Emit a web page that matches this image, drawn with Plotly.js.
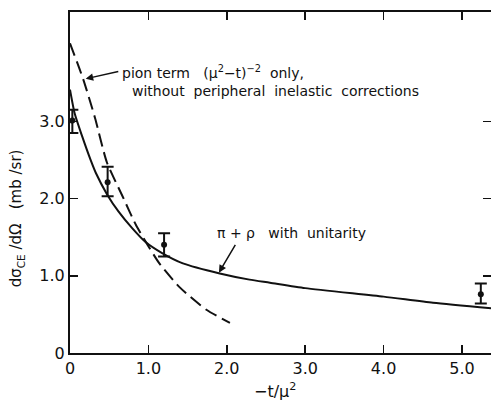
<!DOCTYPE html>
<html>
<head>
<meta charset="utf-8">
<script src="https://cdn.plot.ly/plotly-3.0.1.min.js"></script>
<style>html,body{margin:0;padding:0;background:#fff;}#chart{width:491px;height:400px;}</style>
</head>
<body>
<div id="chart"></div>
<script>
// Solid curve: pi + rho with unitarity
const solidX = [0, 0.06, 0.15, 0.27, 0.33, 0.475, 0.62, 0.79, 0.96, 1.18, 1.44, 1.91, 2.29, 2.55, 3.0, 4.0, 4.63, 5.37];
const solidY = [3.41, 3.10, 2.82, 2.48, 2.33, 2.05, 1.83, 1.62, 1.44, 1.29, 1.16, 1.03, 0.95, 0.91, 0.84, 0.73, 0.65, 0.58];
// Dashed curve: pion term only
const dashX = [0, 0.17, 0.32, 0.47, 0.67, 0.84, 0.99, 1.14, 1.40, 1.74, 2.04];
const dashY = [4.01, 3.54, 3.04, 2.47, 2.03, 1.66, 1.40, 1.16, 0.85, 0.56, 0.39];
// Measured points with errors
const ptX = [0.03, 0.48, 1.20, 5.24];
const ptY = [3.01, 2.21, 1.40, 0.76];
const errPlus = [0.14, 0.20, 0.15, 0.14];
const errMinus = [0.16, 0.18, 0.15, 0.12];
// Ticks
const xTickVals = [0, 1, 2, 3, 4, 5];
const xTickText = ['0', '1.0', '2.0', '3.0', '4.0', '5.0'];
const yTickVals = [0, 1, 2, 3];
const yTickText = ['0', '1.0', '2.0', '3.0'];

const FONT = 'DejaVu Sans, sans-serif';
const INK = '#111';

const traces = [
  {x: solidX, y: solidY, mode: 'lines', line: {color: INK, width: 2, shape: 'spline', smoothing: 0.6}, hoverinfo: 'skip'},
  {x: dashX, y: dashY, mode: 'lines', line: {color: INK, width: 2, dash: '13px,6px', shape: 'spline', smoothing: 0.6}, hoverinfo: 'skip'},
  {x: ptX, y: ptY, mode: 'markers', marker: {color: INK, size: 6},
   error_y: {type: 'data', symmetric: false, array: errPlus, arrayminus: errMinus, color: INK, thickness: 2, width: 6}}
];

const axisCommon = {
  showline: true, linewidth: 2, linecolor: INK, mirror: 'ticks',
  ticks: 'inside', ticklen: 8, tickwidth: 1.5, tickcolor: INK,
  showgrid: false, zeroline: false,
  tickfont: {family: FONT, size: 16, color: INK}
};

const layout = {
  width: 491, height: 400,
  margin: {l: 70, r: 0, t: 12, b: 47},
  paper_bgcolor: '#fff', plot_bgcolor: '#fff',
  showlegend: false,
  xaxis: Object.assign({}, axisCommon, {range: [0, 5.37], tickmode: 'array', tickvals: xTickVals, ticktext: xTickText}),
  yaxis: Object.assign({}, axisCommon, {range: [0, 4.415], tickmode: 'array', tickvals: yTickVals, ticktext: yTickText}),
  annotations: [
    {xref: 'x', yref: 'y', x: 0.64, y: 3.64, xanchor: 'left', yanchor: 'middle', showarrow: false,
     text: 'pion term\u00a0\u00a0\u00a0(\u03bc<sup>2</sup>\u2212t)<sup>\u22122</sup>\u00a0\u00a0only,', font: {family: FONT, size: 14, color: INK}},
    {xref: 'x', yref: 'y', x: 0.77, y: 3.39, xanchor: 'left', yanchor: 'middle', showarrow: false,
     text: 'without\u00a0 peripheral\u00a0 inelastic\u00a0 corrections', font: {family: FONT, size: 14, color: INK}},
    {xref: 'x', yref: 'y', x: 1.845, y: 1.556, xanchor: 'left', yanchor: 'middle', showarrow: false,
     text: '\u03c0 + \u03c1\u00a0\u00a0 with\u00a0 unitarity', font: {family: FONT, size: 14, color: INK}},
    {xref: 'x', yref: 'y', axref: 'x', ayref: 'y', x: 0.20, y: 3.55, ax: 0.635, ay: 3.65, text: '',
     showarrow: true, arrowhead: 2, arrowsize: 1, arrowwidth: 1.5, arrowcolor: INK},
    {xref: 'x', yref: 'y', axref: 'x', ayref: 'y', x: 1.90, y: 1.04, ax: 2.12, ay: 1.42, text: '',
     showarrow: true, arrowhead: 2, arrowsize: 1, arrowwidth: 1.5, arrowcolor: INK},
    {xref: 'paper', yref: 'paper', x: -0.125, y: 0.396, xanchor: 'center', yanchor: 'middle', showarrow: false, textangle: -90,
     text: 'd\u03c3<sub>CE</sub> /d\u03a9\u00a0\u00a0\u00a0(mb /sr)', font: {family: FONT, size: 15, color: INK}},
    {xref: 'paper', yref: 'paper', x: 0.487, y: -0.109, xanchor: 'center', yanchor: 'middle', showarrow: false,
     text: '\u2212t/\u03bc<sup>2</sup>', font: {family: FONT, size: 16, color: INK}}
  ]
};

Plotly.newPlot('chart', traces, layout, {displayModeBar: false, staticPlot: true});
</script>
</body>
</html>
